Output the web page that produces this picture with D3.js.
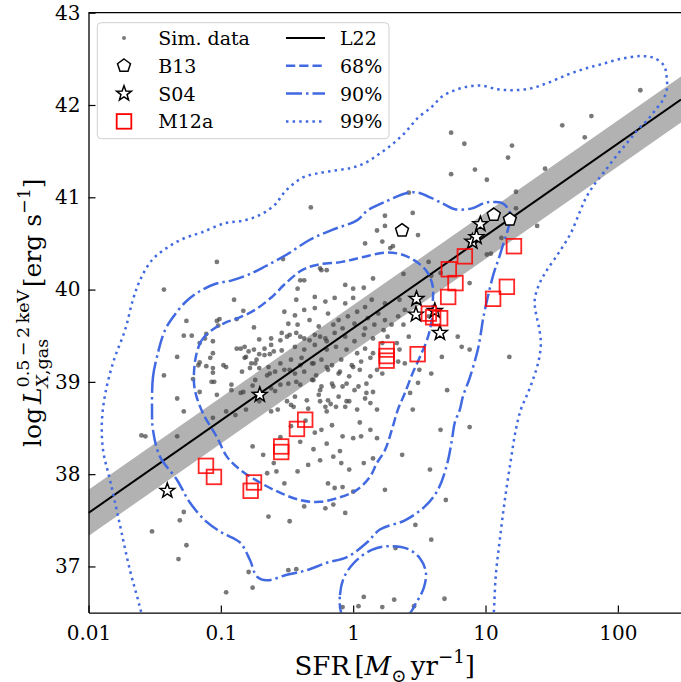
<!DOCTYPE html>
<html>
<head>
<meta charset="utf-8">
<script src="https://cdn.jsdelivr.net/npm/d3@7"></script>
<style>
  body { margin: 0; background: #fff; }
  svg { display: block; }
  text { font-family: "DejaVu Serif", serif; fill: #000; }
</style>
</head>
<body>
<div id="chart"></div>
<script>
// ---- data (log SFR, log Lx) ----
const xTicks = [0.01, 0.1, 1, 10, 100]
const xTickLabels = ["0.01", "0.1", "1", "10", "100"]
const yTicks = [37, 38, 39, 40, 41, 42, 43]

// simulated galaxies [log SFR, log L_X]
const simData = [
  [2.17,42.16],[1.80,41.88],[1.58,41.78],[1.75,41.65],[1.20,41.56],[1.17,41.43],[1.45,41.31],[1.01,41.19],
  [1.23,41.06],[1.23,40.88],[0.74,41.70],[0.84,41.58],[0.74,41.25],[0.92,41.30],[-0.32,40.89],[0.42,41.05],
  [1.39,40.69],[1.12,40.56],[1.01,40.38],[1.04,40.39],[1.18,39.27],[-1.03,40.30],[-1.43,40.00],[-0.90,39.89],
  [-0.83,39.77],[-1.26,39.66],[-1.01,39.68],[-1.03,39.66],[-0.88,39.68],[-1.02,39.61],[-0.75,39.59],[-1.28,39.50],
  [-1.22,39.50],[-1.12,39.47],[-0.71,39.46],[-0.62,39.47],[-1.16,39.42],[-0.55,39.45],[-0.88,39.36],[-0.85,39.36],
  [-0.82,39.38],[-0.79,39.33],[-0.81,39.27],[-0.82,39.26],[-0.75,39.35],[-0.71,39.30],[-0.67,39.29],[-0.63,39.30],
  [-0.54,39.34],[-1.08,39.26],[-1.33,39.27],[-1.16,39.21],[-1.17,39.18],[-1.11,39.17],[-1.06,39.15],[-1.06,39.10],
  [-0.98,39.18],[-0.96,39.16],[-0.77,39.20],[-0.84,39.11],[-0.71,39.15],[-0.63,39.09],[-0.59,39.11],[-1.43,39.07],
  [-1.07,39.00],[-1.21,39.03],[-0.92,38.97],[-0.92,38.91],[-0.76,38.96],[-0.65,39.07],[-1.16,38.89],[-1.03,38.86],
  [-0.85,38.88],[-0.83,38.89],[-0.59,38.90],[-1.33,38.82],[-1.11,39.52],[-1.06,39.44],[-0.73,39.24],[-0.67,39.36],
  [-0.62,39.40],[-0.60,39.33],[-0.54,39.53],[-0.48,39.51],[-0.40,39.49],[-0.33,39.45],[-0.25,39.49],[-0.20,39.44],
  [-1.06,39.31],[-0.78,39.15],[-0.74,39.20],[-0.64,39.16],[-0.55,39.20],[-0.48,39.13],[-0.40,39.18],[-0.30,39.20],
  [-0.20,39.16],[-0.10,39.11],[0.00,39.16],[-1.05,39.00],[-0.74,39.02],[-0.62,38.93],[-0.55,38.97],[-0.43,39.00],
  [-0.30,39.02],[-0.25,38.91],[-0.15,38.95],[-0.05,38.98],[0.04,38.95],[0.10,38.88],[-1.28,38.68],[-1.06,38.61],
  [-0.96,38.68],[-0.89,38.64],[-0.81,38.70],[-0.71,38.79],[-0.62,38.68],[-0.57,38.70],[-0.50,38.79],[-0.45,38.73],
  [-0.25,38.79],[-0.19,38.80],[-0.20,38.68],[-0.13,38.73],[-0.05,38.79],[0.03,38.70],[0.13,38.77],[0.18,38.70],
  [-1.60,38.42],[-1.57,38.41],[-1.33,38.41],[-0.76,38.30],[-0.68,38.21],[-0.40,38.35],[-0.24,38.48],[-0.16,38.53],
  [-0.20,38.33],[-0.08,38.41],[0.00,38.39],[0.06,38.41],[0.13,38.48],[0.18,38.39],[-0.34,38.10],[-0.25,38.15],
  [-0.15,38.19],[-0.09,38.12],[-0.03,38.05],[0.08,38.12],[0.15,38.17],[-0.65,38.01],[-0.58,38.03],[-0.42,38.03],
  [-0.19,37.90],[-0.14,37.85],[-0.08,37.86],[0.00,37.81],[-0.52,37.90],[-1.31,37.50],[-1.28,37.59],[-1.52,37.38],
  [-1.26,37.23],[-1.32,37.08],[-0.64,37.54],[-0.48,37.49],[-0.37,37.65],[-0.21,37.63],[-0.15,37.67],[-0.06,37.58],
  [-0.79,36.94],[-0.49,36.96],[-0.43,36.97],[-0.76,36.77],[-0.96,36.72],[0.08,36.67],[-0.08,36.56],[0.04,36.57],
  [0.22,36.56],[0.31,36.64],[0.46,36.57],[0.69,36.65],[0.45,40.83],[0.24,40.80],[0.18,40.64],[0.09,40.50],
  [0.24,40.69],[0.30,40.47],[0.49,40.59],[0.57,40.30],[-0.37,40.10],[-0.42,40.01],[-0.24,40.21],[-0.06,40.05],
  [0.00,40.01],[0.08,40.02],[0.15,40.12],[0.38,40.17],[0.59,40.15],[0.66,40.18],[0.88,40.07],[-0.43,39.89],
  [-0.29,39.92],[-0.21,39.87],[-0.14,39.91],[-0.06,39.85],[0.00,39.91],[0.09,39.81],[0.14,39.89],[0.24,39.85],
  [0.35,39.89],[-0.52,39.76],[-0.44,39.72],[-0.37,39.78],[-0.29,39.80],[-0.19,39.74],[-0.11,39.67],[-0.04,39.71],
  [0.03,39.76],[0.11,39.69],[0.19,39.74],[0.24,39.67],[0.34,39.71],[0.39,39.78],[-0.49,39.63],[-0.42,39.62],
  [-0.33,39.67],[-0.26,39.60],[-0.15,39.62],[-0.08,39.58],[0.01,39.63],[0.09,39.58],[0.16,39.62],[0.23,39.56],
  [0.29,39.62],[0.38,39.62],[-0.50,39.49],[-0.43,39.53],[-0.37,39.47],[-0.29,39.51],[-0.21,39.47],[-0.14,39.53],
  [-0.06,39.49],[0.01,39.44],[0.08,39.51],[0.15,39.47],[0.22,39.42],[0.26,39.49],[0.33,39.42],[0.42,39.49],
  [-0.44,39.38],[-0.37,39.35],[-0.29,39.40],[-0.20,39.35],[-0.13,39.38],[-0.05,39.35],[0.03,39.31],[0.09,39.36],
  [0.15,39.31],[-0.47,39.24],[-0.39,39.26],[-0.31,39.20],[-0.24,39.24],[-0.16,39.18],[-0.09,39.24],[-0.01,39.18],
  [0.06,39.22],[0.13,39.26],[0.34,39.22],[0.39,39.20],[0.50,39.13],[-0.52,39.13],[-0.44,39.09],[-0.37,39.11],
  [-0.28,39.07],[-0.19,39.13],[-0.11,39.09],[-0.03,39.06],[0.05,39.13],[0.13,39.06],[0.18,39.13],[-0.49,38.98],
  [-0.40,38.97],[-0.31,39.02],[-0.24,38.95],[-0.16,38.98],[-0.08,38.95],[0.01,38.91],[0.10,38.98],[0.15,38.89],
  [0.22,39.09],[-0.44,38.84],[-0.35,38.80],[-0.26,38.86],[-0.17,38.76],[-0.11,38.84],[-0.03,38.79],[0.09,38.82],
  [0.57,39.71],[0.79,39.49],[0.71,38.91],[0.82,39.38],[0.67,39.27],[0.59,39.09],[-0.47,38.75],[-0.34,38.71],
  [-0.06,38.73],[-0.21,38.73],[-0.53,40.33],[-0.40,40.10],[-0.25,40.23],[-0.20,40.21],[0.22,40.52],[0.28,40.45],
  [0.88,39.35],[0.88,38.51],[0.66,38.48],[0.45,38.70],[0.37,38.21],[0.58,38.05],[0.70,37.72],[0.47,37.45],
  [0.32,37.20],[0.59,37.29],[0.24,37.83],[0.43,38.88],[0.49,38.99],[0.35,39.35],
  [-0.36,38.58],[-0.29,38.45],[-0.47,38.52],[-0.55,38.40],[-0.10,38.25],[-0.30,38.27],[0.05,38.56],[-0.60,38.12]
]

// observations [SFR, log L_X]
const b13 = [[2.34,40.64],[11.55,40.81],[15.27,40.76]]
const s04 = [[0.0394,37.82],[0.197,38.86],[3.01,39.90],[2.98,39.73],[4.52,39.53],[4.14,39.77],
             [7.95,40.52],[8.55,40.57],[9.14,40.71]]
const m12a = [[16.4,40.47],[6.98,40.36],[5.28,40.22],[5.93,40.07],[5.22,39.92],[14.5,40.03],[11.41,39.90],
              [3.73,39.74],[4.02,39.70],[4.54,39.69],[3.07,39.30],[1.79,39.35],[1.79,39.28],[1.79,39.23],
              [0.434,38.59],[0.376,38.49],[0.286,38.30],[0.286,38.24],[0.178,37.91],[0.168,37.82],
              [0.0772,38.09],[0.0887,37.97]]

// L22 relation and its scatter band
const l22SFR = [0.01, 300]
const l22Lx = [37.58, 42.06]
const l22Scatter = 0.25

// density contours [log SFR, log L_X]
const contour68 = [
  [-1.183,39.31],[-1.145,39.45],[-1.069,39.56],[-0.969,39.64],[-0.871,39.69],[-0.742,39.78],[-0.614,39.92],
  [-0.516,40.06],[-0.387,40.21],[-0.267,40.27],[-0.085,40.30],[0.066,40.35],[0.240,40.40],[0.368,40.38],
  [0.489,40.29],[0.564,40.18],[0.602,40.03],[0.602,39.89],[0.594,39.67],[0.557,39.45],[0.504,39.27],
  [0.451,39.10],[0.391,38.88],[0.338,38.70],[0.292,38.48],[0.240,38.26],[0.179,38.12],[0.126,37.97],
  [0.028,37.83],[-0.100,37.75],[-0.252,37.70],[-0.403,37.72],[-0.554,37.80],[-0.705,37.91],[-0.856,38.05],
  [-0.954,38.19],[-1.029,38.40],[-1.135,38.66],[-1.196,38.91],[-1.203,39.10]
]
const contour90 = [
  [-1.520,38.70],[-1.513,39.05],[-1.483,39.27],[-1.422,39.56],[-1.362,39.70],[-1.271,39.86],[-1.173,39.97],
  [-1.045,40.06],[-0.916,40.10],[-0.795,40.16],[-0.667,40.25],[-0.501,40.38],[-0.327,40.54],[-0.153,40.65],
  [0.028,40.75],[0.111,40.86],[0.240,40.95],[0.413,41.05],[0.489,41.05],[0.594,40.99],[0.693,40.92],
  [0.768,40.87],[0.897,40.88],[0.995,40.94],[1.063,40.95],[1.123,40.94],[1.169,40.88],[1.191,40.79],
  [1.169,40.65],[1.138,40.51],[1.101,40.34],[1.063,40.18],[1.017,39.92],[0.980,39.67],[0.965,39.53],
  [0.942,39.35],[0.882,39.05],[0.829,38.84],[0.806,38.70],[0.768,38.56],[0.746,38.37],[0.708,38.10],
  [0.640,37.83],[0.542,37.65],[0.391,37.50],[0.202,37.40],[0.104,37.26],[-0.048,37.10],[-0.199,37.04],
  [-0.350,36.96],[-0.501,36.91],[-0.652,36.85],[-0.727,36.89],[-0.780,37.07],[-0.856,37.26],[-0.984,37.36],
  [-1.105,37.48],[-1.233,37.69],[-1.332,37.94],[-1.460,38.19],[-1.513,38.48]
]
const contour90b = [
  [-0.093,36.51],[-0.100,36.69],[-0.070,36.88],[0.013,37.05],[0.141,37.18],[0.277,37.22],[0.413,37.19],
  [0.504,37.09],[0.549,36.94],[0.534,36.77],[0.474,36.60],[0.413,36.47],[0.277,36.40],[0.051,36.40],[-0.063,36.44]
]
const contour99 = [
  [-1.573,36.37],[-1.603,36.51],[-1.626,36.64],[-1.687,36.96],[-1.770,37.50],[-1.838,37.94],[-1.890,38.26],
  [-1.898,38.59],[-1.868,38.91],[-1.807,39.24],[-1.724,39.56],[-1.664,39.89],[-1.611,40.10],[-1.520,40.32],
  [-1.400,40.46],[-1.271,40.56],[-1.143,40.62],[-0.969,40.72],[-0.818,40.75],[-0.690,40.82],[-0.591,40.92],
  [-0.516,41.06],[-0.387,41.21],[-0.267,41.26],[-0.138,41.29],[-0.010,41.32],[0.088,41.37],[0.187,41.46],
  [0.292,41.57],[0.391,41.70],[0.489,41.86],[0.594,41.98],[0.670,42.09],[0.768,42.16],[0.866,42.20],
  [0.972,42.21],[1.093,42.17],[1.214,42.16],[1.342,42.18],[1.471,42.24],[1.622,42.33],[1.742,42.39],
  [1.871,42.44],[2.022,42.50],[2.173,42.53],[2.271,42.51],[2.347,42.43],[2.369,42.30],[2.369,42.16],
  [2.339,42.05],[2.286,41.95],[2.226,41.84],[2.150,41.73],[2.075,41.60],[1.984,41.44],[1.894,41.27],
  [1.818,41.13],[1.758,40.99],[1.712,40.84],[1.644,40.61],[1.554,40.40],[1.455,40.19],[1.403,40.05],
  [1.372,39.89],[1.380,39.75],[1.403,39.60],[1.418,39.42],[1.403,39.24],[1.365,39.05],[1.320,38.88],
  [1.267,38.70],[1.229,38.48],[1.191,38.15],[1.146,37.72],[1.108,37.29],[1.078,36.91],[1.063,36.51],[1.055,36.37]
]

const legendLeft = ["Sim. data", "B13", "S04", "M12a"]
const legendRight = ["L22", "68%", "90%", "99%"]

// ---- layout ----
const WIDTH = 681, HEIGHT = 682
const PLOT = {LEFT: 88.5, RIGHT: 681, TOP: 12.7, BOTTOM: 612.6}
const BLUE = "#4169e1"
const SERIF = "'DejaVu Serif', serif"
const DASH = {d68: "9.25,4", d90: "16,4,2.5,4", d99: "2.5,4.1"}

const svg = d3.select("#chart").append("svg")
  .attr("width", WIDTH).attr("height", HEIGHT)

const x = d3.scaleLog().domain([0.01, 300]).range([PLOT.LEFT, PLOT.RIGHT])
const y = d3.scaleLinear().domain([36.5, 43]).range([PLOT.BOTTOM, PLOT.TOP])
const xl = v => x(Math.pow(10, v))     // x position from log SFR

svg.append("clipPath").attr("id", "clip").append("rect")
  .attr("x", PLOT.LEFT).attr("y", PLOT.TOP)
  .attr("width", PLOT.RIGHT - PLOT.LEFT).attr("height", PLOT.BOTTOM - PLOT.TOP)

const plot = svg.append("g").attr("clip-path", "url(#clip)")

// L22 scatter band
const band = l22SFR.map((s, i) => ({s: s, lo: l22Lx[i] - l22Scatter, hi: l22Lx[i] + l22Scatter}))
plot.append("path")
  .datum(band)
  .attr("d", d3.area().x(d => x(d.s)).y0(d => y(d.lo)).y1(d => y(d.hi)))
  .attr("fill", "#b2b2b2")

// simulated points
plot.append("g").selectAll("circle")
  .data(simData)
  .join("circle")
    .attr("cx", d => xl(d[0]))
    .attr("cy", d => y(d[1]))
    .attr("r", 2.4)
    .attr("fill", "#404040")
    .attr("opacity", 0.7)

// L22 line
plot.append("path")
  .datum(l22SFR.map((s, i) => [s, l22Lx[i]]))
  .attr("d", d3.line().x(d => x(d[0])).y(d => y(d[1])))
  .attr("stroke", "#000").attr("stroke-width", 2).attr("fill", "none")

// contours
const closedLine = d3.line().x(d => xl(d[0])).y(d => y(d[1])).curve(d3.curveCatmullRomClosed.alpha(0.5))
const openLine = d3.line().x(d => xl(d[0])).y(d => y(d[1])).curve(d3.curveCatmullRom.alpha(0.5))
const contours = [
  {data: contour68, gen: closedLine, dash: DASH.d68},
  {data: contour90, gen: closedLine, dash: DASH.d90},
  {data: contour90b, gen: closedLine, dash: DASH.d90},
  {data: contour99, gen: openLine, dash: DASH.d99}
]
contours.forEach(c => {
  plot.append("path")
    .attr("d", c.gen(c.data))
    .attr("fill", "none")
    .attr("stroke", BLUE)
    .attr("stroke-width", 2.5)
    .attr("stroke-dasharray", c.dash)
})

// marker shapes
function pentagon(R) {
  const p = d3.range(5).map(i => {
    const a = (-90 + i * 72) * Math.PI / 180
    return [R * Math.cos(a), R * Math.sin(a)]
  })
  return "M" + p.join("L") + "Z"
}
function star(R, r) {
  const p = d3.range(10).map(i => {
    const a = (-90 + i * 36) * Math.PI / 180
    const rr = i % 2 ? r : R
    return [rr * Math.cos(a), rr * Math.sin(a)]
  })
  return "M" + p.join("L") + "Z"
}
const PENT = pentagon(6.8)
const STAR = star(7.8, 3.2)

// observational markers
plot.append("g").selectAll("path")
  .data(b13).join("path")
    .attr("transform", d => `translate(${x(d[0])},${y(d[1])})`)
    .attr("d", PENT)
    .attr("fill", "#fff").attr("stroke", "#000").attr("stroke-width", 1.5)

plot.append("g").selectAll("path")
  .data(s04).join("path")
    .attr("transform", d => `translate(${x(d[0])},${y(d[1])})`)
    .attr("d", STAR)
    .attr("fill", "#fff").attr("stroke", "#000").attr("stroke-width", 1.5)

plot.append("g").selectAll("rect")
  .data(m12a).join("rect")
    .attr("x", d => x(d[0]) - 7.3).attr("y", d => y(d[1]) - 7.3)
    .attr("width", 14.6).attr("height", 14.6)
    .attr("fill", "none").attr("stroke", "red").attr("stroke-width", 1.8)
    .attr("stroke-opacity", 0.85)

// ---- axes ----
const xAxis = svg.append("g")
  .attr("transform", `translate(0,${PLOT.BOTTOM})`)
  .call(d3.axisBottom(x).tickValues(xTicks).tickFormat((d, i) => xTickLabels[i])
    .tickSizeInner(-7).tickSizeOuter(0).tickPadding(13))
const yAxis = svg.append("g")
  .attr("transform", `translate(${PLOT.LEFT},0)`)
  .call(d3.axisLeft(y).tickValues(yTicks).tickFormat(d3.format("d"))
    .tickSizeInner(-7).tickSizeOuter(0).tickPadding(8))

;[xAxis, yAxis].forEach(a => {
  a.attr("font-family", null).style("font-family", SERIF)
  a.select(".domain").attr("stroke", "#000").attr("stroke-width", 1.3)
  a.selectAll(".tick line").attr("stroke", "#000").attr("stroke-width", 1.2)
  a.selectAll(".tick text").style("font-family", SERIF).attr("font-size", 20).attr("fill", "#000")
})

// top spine
svg.append("line")
  .attr("x1", PLOT.LEFT).attr("x2", PLOT.RIGHT)
  .attr("y1", PLOT.TOP).attr("y2", PLOT.TOP)
  .attr("stroke", "#000").attr("stroke-width", 1.3)

// ---- axis labels (mathtext-like runs) ----
function richText(g, runs, size) {
  let cx = 0, prevStart = 0, prevEnd = 0
  runs.forEach(r => {
    const fs = size * (r.k || 1)
    const start = r.stack ? prevStart : cx + (r.sp || 0) * size
    const t = g.append("text")
      .attr("x", start).attr("y", -(r.up || 0) * size)
      .attr("font-size", fs)
      .style("font-family", SERIF)
      .style("white-space", "pre")
    r.parts.forEach(p => {
      t.append("tspan").attr("font-style", p.it ? "italic" : "normal").text(p.t)
    })
    const end = start + t.node().getComputedTextLength()
    if (r.stack) {
      cx = Math.max(prevEnd, end)
    } else {
      cx = end
      prevStart = start
      prevEnd = end
    }
  })
  return cx
}

const yLab = svg.append("g").attr("transform", `translate(41,${(PLOT.TOP + PLOT.BOTTOM) / 2}) rotate(-90)`)
const yLabInner = yLab.append("g")
const yw = richText(yLabInner, [
  {parts: [{t: "log"}]},
  {parts: [{t: "L", it: 1}], sp: 0.15},
  {parts: [{t: "0.5\u2009\u2212\u20092\u2009keV"}], k: 0.7, up: 0.5},
  {parts: [{t: "X", it: 1}, {t: ",gas"}], k: 0.7, up: -0.27, stack: true},
  {parts: [{t: "[erg s"}], sp: 0.1},
  {parts: [{t: "\u22121"}], k: 0.7, up: 0.45},
  {parts: [{t: "]"}]}
], 25)
yLabInner.attr("transform", `translate(${-yw / 2},0)`)

const xLab = svg.append("g").attr("transform", `translate(${(PLOT.LEFT + PLOT.RIGHT) / 2},675)`)
const xLabInner = xLab.append("g")
const xw = richText(xLabInner, [
  {parts: [{t: "SFR"}]},
  {parts: [{t: "["}], sp: 0.17},
  {parts: [{t: "M", it: 1}]},
  {parts: [{t: "\u2299"}], k: 0.7, up: -0.25},
  {parts: [{t: "yr"}], sp: 0.17},
  {parts: [{t: "\u22121"}], k: 0.7, up: 0.45},
  {parts: [{t: "]"}]}
], 26)
xLabInner.attr("transform", `translate(${-xw / 2},0)`)

// ---- legend ----
const LEG = {X: 97.3, Y: 22.7, W: 291.7, H: 116, ROW: 27.8, BASE: 45}
const legend = svg.append("g")
legend.append("rect")
  .attr("x", LEG.X).attr("y", LEG.Y).attr("width", LEG.W).attr("height", LEG.H)
  .attr("rx", 4).attr("fill", "#fff").attr("fill-opacity", 0.8)
  .attr("stroke", "#d0d0d0").attr("stroke-width", 1)

legendLeft.forEach((name, i) => {
  const cy = LEG.BASE + i * LEG.ROW - 7
  const g = legend.append("g").attr("transform", `translate(124,${cy})`)
  if (i === 0) g.append("circle").attr("r", 2).attr("fill", "#404040").attr("opacity", 0.7)
  if (i === 1) g.append("path").attr("d", PENT).attr("fill", "#fff").attr("stroke", "#000").attr("stroke-width", 1.5)
  if (i === 2) g.append("path").attr("d", STAR).attr("fill", "#fff").attr("stroke", "#000").attr("stroke-width", 1.5)
  if (i === 3) g.append("rect").attr("x", -7.3).attr("y", -7.3).attr("width", 14.6).attr("height", 14.6)
    .attr("fill", "none").attr("stroke", "red").attr("stroke-width", 1.8)
  legend.append("text").attr("x", 158.3).attr("y", LEG.BASE + i * LEG.ROW)
    .attr("font-size", 19).style("font-family", SERIF).text(name)
})

const rightStyles = [
  {stroke: "#000", dash: null, w: 2},
  {stroke: BLUE, dash: DASH.d68, w: 2.5},
  {stroke: BLUE, dash: DASH.d90, w: 2.5},
  {stroke: BLUE, dash: DASH.d99, w: 2.5}
]
legendRight.forEach((name, i) => {
  const cy = LEG.BASE + i * LEG.ROW - 7
  legend.append("line")
    .attr("x1", 286).attr("x2", 325).attr("y1", cy).attr("y2", cy)
    .attr("stroke", rightStyles[i].stroke).attr("stroke-width", rightStyles[i].w)
    .attr("stroke-dasharray", rightStyles[i].dash)
  legend.append("text").attr("x", 340).attr("y", LEG.BASE + i * LEG.ROW)
    .attr("font-size", 19).style("font-family", SERIF).text(name)
})
</script>
</body>
</html>
